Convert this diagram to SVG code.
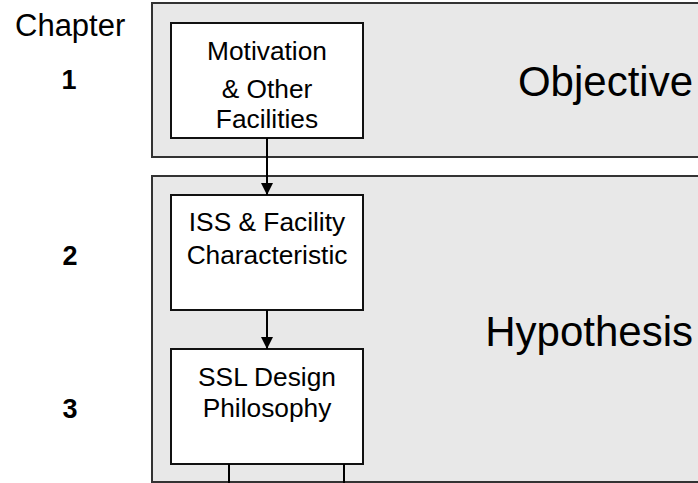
<svg xmlns="http://www.w3.org/2000/svg" width="698" height="483" viewBox="0 0 698 483">
<defs>
<style>
.panel{fill:#e8e8e8;stroke:#333;stroke-width:2}
.box{fill:#fff;stroke:#111;stroke-width:2}
.t{font-family:"Liberation Sans",Arial,sans-serif;fill:#000}
.bt{font-size:26.3px;text-anchor:middle}
.big{font-size:42px;text-anchor:end}
.num{font-size:27px;font-weight:bold;text-anchor:middle}
.conn{stroke:#000;stroke-width:2;fill:none}
</style>
<marker id="ah" markerWidth="12" markerHeight="13" refX="12" refY="6" orient="auto" markerUnits="userSpaceOnUse">
<path d="M0,0 L12,6 L0,12 Z" fill="#000"/>
</marker>
</defs>
<rect width="698" height="483" fill="#fff"/>
<g id="chapters">
<text class="t" x="15" y="36" font-size="31">Chapter</text>
<text class="t num" x="69" y="89">1</text>
<text class="t num" x="70" y="265">2</text>
<text class="t num" x="70" y="418">3</text>
</g>
<g id="objective">
<rect class="panel" x="152" y="3" width="560" height="154"/>
<text class="t big" x="693" y="96">Objective</text>
</g>
<g id="hypothesis">
<rect class="panel" x="152" y="176" width="560" height="306"/>
<text class="t big" x="693" y="346">Hypothesis</text>
</g>
<g id="motivation">
<rect class="box" x="171" y="23" width="192" height="115"/>
<text class="t bt" x="267" y="60">Motivation</text>
<text class="t bt" x="267" y="98">&amp; Other</text>
<text class="t bt" x="267" y="128">Facilities</text>
</g>
<g id="iss">
<rect class="box" x="171" y="195" width="192" height="115"/>
<text class="t bt" x="267" y="231">ISS &amp; Facility</text>
<text class="t bt" x="267" y="264">Characteristic</text>
</g>
<g id="ssl">
<rect class="box" x="171" y="349" width="192" height="115"/>
<text class="t bt" x="267" y="386">SSL Design</text>
<text class="t bt" x="267" y="417">Philosophy</text>
</g>
<g id="connectors">
<line class="conn" x1="267" y1="138" x2="267" y2="195" marker-end="url(#ah)"/>
<line class="conn" x1="267" y1="310" x2="267" y2="349" marker-end="url(#ah)"/>
<line class="conn" x1="229" y1="464" x2="229" y2="483"/>
<line class="conn" x1="344" y1="464" x2="344" y2="483"/>
</g>
</svg>
